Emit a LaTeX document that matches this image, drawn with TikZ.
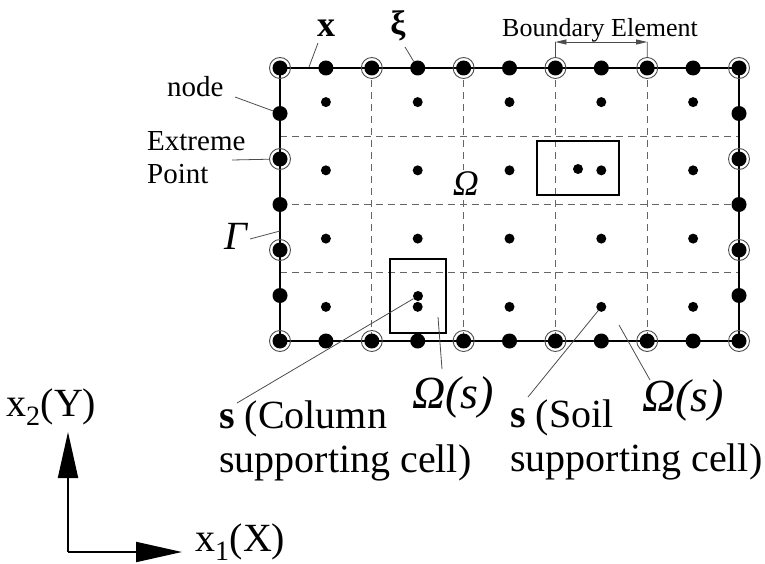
\documentclass[tikz,border=0pt]{standalone}
\usepackage{fontspec}
\setmainfont{Liberation Serif}
\usetikzlibrary{arrows.meta}
\begin{document}
\begin{tikzpicture}[x=1pt,y=-1pt,
  bnd/.style={line width=2.6pt},
  gridline/.style={dash pattern=on 7pt off 5pt, line width=0.8pt, draw=black!60},
  bnode/.style={circle, fill=black, inner sep=0pt, minimum size=15pt},
  cdot/.style={circle, fill=black, inner sep=0pt, minimum size=10pt},
  ring/.style={circle, draw=black!70, line width=0.9pt, inner sep=0pt, minimum size=21pt},
  lead/.style={draw=black!70, line width=0.8pt},
  cellbox/.style={draw, line width=2.4pt},
  lbl/.style={font=\fontsize{29}{33}\selectfont, inner sep=0pt, align=left},
  big/.style={font=\fontsize{40}{44}\selectfont, inner sep=0pt, align=left},
  omlab/.style={font=\fontsize{46}{50}\selectfont\itshape, inner sep=0pt, anchor=base west},
  axisline/.style={line width=2pt, -{Triangle[length=46pt,width=20pt]}},
]
\useasboundingbox (0,0) rectangle (765,564);

% cell grid
\foreach \i in {1,...,4} {
  \coordinate (gt\i) at ({280+91.8*\i},68);
  \coordinate (gb\i) at ({280+91.8*\i},341);
  \draw[gridline] (gt\i) -- (gb\i);
}
\foreach \j in {1,2,3} {
  \coordinate (gl\j) at (280,{68+68.25*\j});
  \coordinate (gr\j) at (739,{68+68.25*\j});
  \draw[gridline] (gl\j) -- (gr\j);
}

% boundary
\coordinate (c1) at (280,68);
\coordinate (c2) at (739,341);
\draw[bnd] (c1) rectangle (c2);

% interior cell points
\foreach \i in {0,...,4} {
  \foreach \j in {0,...,3} {
    \node[cdot] (d\i\j) at ({325.9+91.8*\i},{102.1+68.25*\j}) {};
  }
}

% extreme points top/bottom
\foreach \i in {0,...,5} {
  \node[bnode] (tef\i) at ({280+91.8*\i},68) {};
  \node[ring]  (te\i)  at ({280+91.8*\i},68) {};
  \node[bnode] (bef\i) at ({280+91.8*\i},341) {};
  \node[ring]  (be\i)  at ({280+91.8*\i},341) {};
}
% extreme points left/right
\foreach \j in {1,2} {
  \node[bnode] (lef\j) at (280,{68+91*\j}) {};
  \node[ring]  (le\j)  at (280,{68+91*\j}) {};
  \node[bnode] (ref\j) at (739,{68+91*\j}) {};
  \node[ring]  (re\j)  at (739,{68+91*\j}) {};
}
% boundary nodes
\foreach \i in {0,...,4} {
  \node[bnode] (tn\i) at ({325.9+91.8*\i},68) {};
  \node[bnode] (bn\i) at ({325.9+91.8*\i},341) {};
}
\foreach \j in {0,1,2} {
  \node[bnode] (ln\j) at (280,{113.5+91*\j}) {};
  \node[bnode] (rn\j) at (739,{113.5+91*\j}) {};
}

% supporting cell boxes
\coordinate (ba1) at (537,141);
\coordinate (ba2) at (619,195);
\draw[cellbox] (ba1) rectangle (ba2);
\node[cdot] (sdot) at (578,169) {};
\coordinate (bb1) at (390,259);
\coordinate (bb2) at (446,333);
\draw[cellbox] (bb1) rectangle (bb2);
\node[cdot] (cdotc) at (418,296) {};

% Omega
\node[font=\fontsize{36}{40}\selectfont\itshape, fill=white, inner sep=1pt, anchor=base] (om) at (466,195) {Ω};

% top labels
\node[font=\fontsize{36}{40}\selectfont\bfseries, inner sep=0pt, anchor=base] (xl) at (326,37) {x};
\coordinate (xa) at (318,43);
\coordinate (xb) at (309,67);
\draw[lead] (xa) -- (xb);

\node[font=\fontsize{34}{38}\selectfont\bfseries, inner sep=0pt, anchor=base] (xil) at (398,35) {ξ};
\coordinate (xia) at (405,47);
\draw[lead] (xia) -- (tn1);

\node[lbl, anchor=base west] (nodel) at (167,97) {node};
\coordinate (na) at (235,97);
\draw[lead] (na) -- (ln0);

\node[lbl, anchor=base west] (epl) at (147,184) {Extreme\\Point};
\coordinate (epa) at (232,160);
\draw[lead] (epa) -- (le1);

\node[font=\fontsize{40}{44}\selectfont\itshape, inner sep=0pt, anchor=base] (gl) at (236,249) {Γ};
\coordinate (ga) at (250,239);
\coordinate (gb) at (280,231);
\draw[lead] (ga) -- (gb);

% boundary element dimension
\node[font=\fontsize{26}{30}\selectfont, inner sep=0pt, anchor=base] (bel) at (600,37) {Boundary Element};
\coordinate (bea) at (555.4,42);
\coordinate (beb) at (647.2,42);
\draw[lead] (te3) -- (bea);
\draw[lead] (te4) -- (beb);
\draw[lead, {Triangle[length=11pt,width=5pt]}-{Triangle[length=11pt,width=5pt]}] (bea) -- (beb);

% bottom labels
\node[big, anchor=base west] (coll) at (219,472) {\textbf{s} (Column\\supporting cell)};
\coordinate (cla) at (237,403);
\draw[lead] (cdotc) -- (cla);

\node[omlab] (oms1) at (412,408) {Ω(s)};
\coordinate (o1a) at (438,317);
\coordinate (o1b) at (442,369);
\draw[lead] (o1a) -- (o1b);

\node[big, anchor=base west] (soill) at (510,471) {\textbf{s} (Soil\\supporting cell)};
\coordinate (sla) at (528,397);
\draw[lead] (d33) -- (sla);

\node[omlab] (oms2) at (642,411) {Ω(s)};
\coordinate (o2a) at (619,325);
\coordinate (o2b) at (650,380);
\draw[lead] (o2a) -- (o2b);

% axes
\coordinate (o) at (68,552);
\coordinate (ay) at (68,432);
\coordinate (ax) at (182,552);
\draw[axisline] (o) -- (ay);
\draw[axisline] (o) -- (ax);
\node[big, anchor=base west] (yl) at (6,416) {x\textsubscript{2}(Y)};
\node[big, anchor=base west] (xl1) at (195,551) {x\textsubscript{1}(X)};
\end{tikzpicture}
\end{document}
